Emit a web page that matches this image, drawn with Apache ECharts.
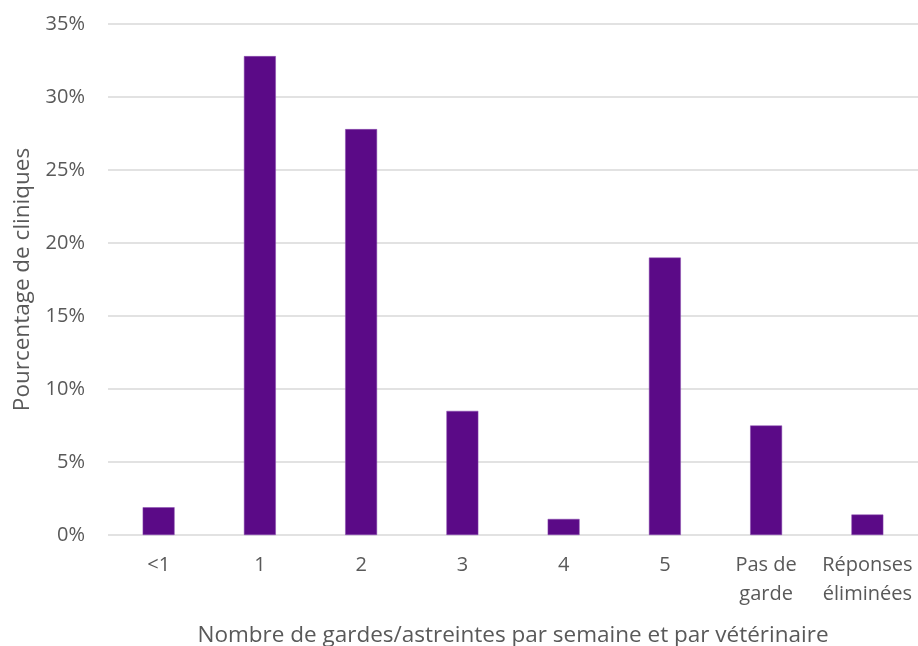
<!DOCTYPE html>
<html>
<head>
<meta charset="utf-8">
<script src="https://cdn.jsdelivr.net/npm/echarts@6/dist/echarts.min.js"></script>
<style>html,body{margin:0;padding:0;background:#fff}#c{width:918px;height:646px}</style>
</head>
<body>
<div id="c"></div>
<script>
const categories = ['<1', '1', '2', '3', '4', '5', 'Pas de\ngarde', 'Réponses\néliminées'];
const values = [1.9, 32.8, 27.8, 8.5, 1.1, 19.0, 7.5, 1.4];
const yTicks = [0, 5, 10, 15, 20, 25, 30, 35];
const xTitle = 'Nombre de gardes/astreintes par semaine et par vétérinaire';
const yTitle = 'Pourcentage de cliniques';

const chart = echarts.init(document.getElementById('c'));
const font = '"Open Sans", "Noto Sans", sans-serif';
chart.setOption({
  animation: false,
  grid: { left: 108, right: 0, top: 24, bottom: 111, outerBoundsMode: 'none', containLabel: false },
  xAxis: {
    type: 'category',
    data: categories,
    name: xTitle,
    nameLocation: 'middle',
    nameGap: 89,
    nameTextStyle: { color: '#595959', fontSize: 22.5, fontFamily: font },
    axisLine: { show: false },
    axisTick: { show: false },
    axisLabel: { color: '#595959', fontSize: 20, fontFamily: font, margin: 16, lineHeight: 29, interval: 0 }
  },
  yAxis: {
    type: 'value',
    min: yTicks[0],
    max: yTicks[yTicks.length - 1],
    interval: 5,
    name: yTitle,
    nameLocation: 'middle',
    nameGap: 74,
    nameTextStyle: { color: '#595959', fontSize: 22.5, fontFamily: font },
    axisLine: { show: false },
    axisTick: { show: false },
    axisLabel: { color: '#595959', fontSize: 20, fontFamily: font, margin: 23, formatter: '{value}%' },
    splitLine: { lineStyle: { color: '#D9D9D9', width: 1.5 } }
  },
  series: [{
    type: 'bar',
    data: values,
    barWidth: '31.5%',
    itemStyle: { color: '#5B0A87', borderColor: '#8B4DB0', borderWidth: 0.5 }
  }]
});
</script>
</body>
</html>
